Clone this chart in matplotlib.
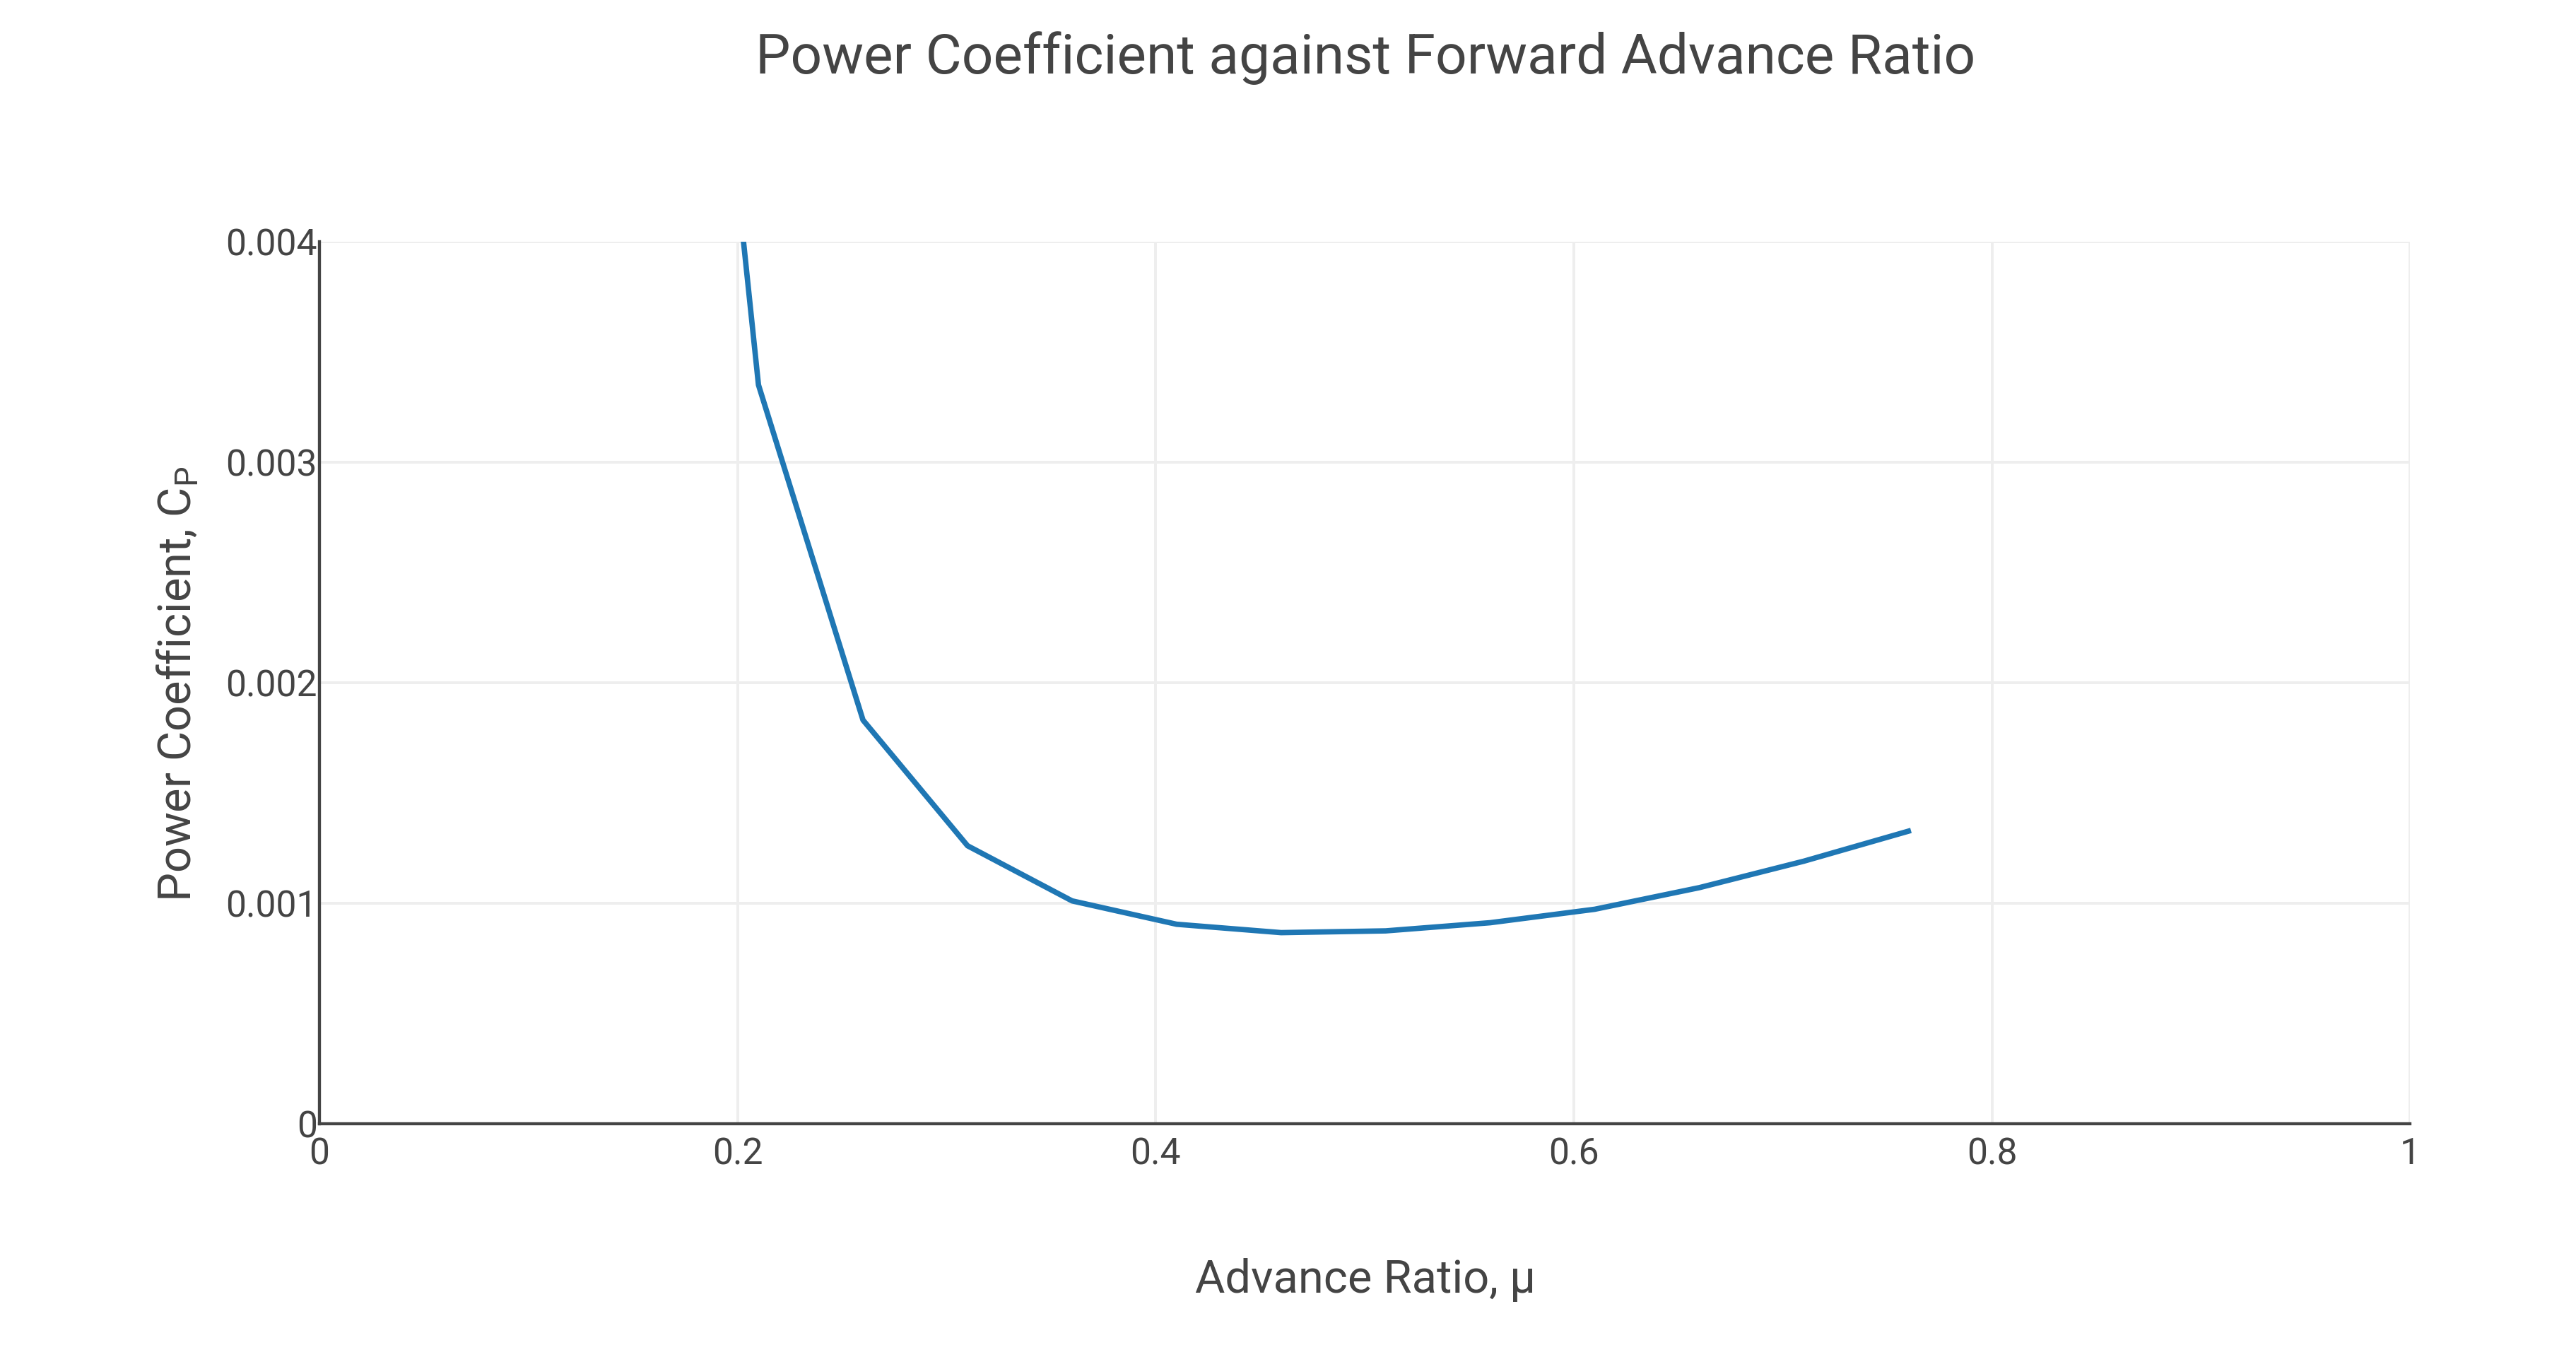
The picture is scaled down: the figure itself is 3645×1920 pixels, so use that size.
import matplotlib
matplotlib.use("Agg")
import matplotlib.pyplot as plt

plt.rcParams["font.family"] = ["Roboto", "DejaVu Sans"]

# advance ratio mu and power coefficient Cp
mu = [0.16, 0.21, 0.26, 0.31, 0.36, 0.41, 0.46, 0.51, 0.56, 0.61, 0.66, 0.71, 0.76]
cp = [0.00789, 0.003350, 0.00183, 0.00126, 0.00101, 0.000904, 0.000866, 0.000874,
      0.000911, 0.000972, 0.00107, 0.00119, 0.001326]

x_ticks = [0, 0.2, 0.4, 0.6, 0.8, 1]
x_labels = ["0", "0.2", "0.4", "0.6", "0.8", "1"]
y_ticks = [0, 0.001, 0.002, 0.003, 0.004]
y_labels = ["0", "0.001", "0.002", "0.003", "0.004"]

fig = plt.figure(figsize=(3645 / 240, 1920 / 240), dpi=240)
ax = fig.add_axes([0.124, 0.172, 0.8116, 0.650])

ax.plot(mu, cp, color="#1f77b4", linewidth=2.3, solid_joinstyle="round")

ax.set_xlim(0, 1)
ax.set_ylim(0, 0.004)
ax.set_xticks(x_ticks)
ax.set_xticklabels(x_labels)
ax.set_yticks(y_ticks)
ax.set_yticklabels(y_labels)
ax.grid(True, color="#eeeeee", linewidth=1.2)
ax.set_axisbelow(True)

for side in ["top", "right"]:
    ax.spines[side].set_visible(False)
for side in ["left", "bottom"]:
    ax.spines[side].set_color("#444444")
    ax.spines[side].set_linewidth(1.3)

ax.tick_params(length=0, labelsize=15.5, colors="#444444")
ax.tick_params(axis="y", pad=1)
ax.tick_params(axis="x", pad=5.5)

fig.text(0.530, 0.957, "Power Coefficient against Forward Advance Ratio",
         ha="center", va="center", fontsize=23.5, color="#444444")
fig.text(0.530, 0.057, "Advance Ratio, μ", ha="center", va="center",
         fontsize=19.5, color="#444444")
fig.text(0.069, 0.496, r"Power Coefficient, C$_\mathregular{P}$", ha="center",
         va="center", rotation=90, fontsize=19.5, color="#444444")

fig.savefig("out.png", dpi=240, facecolor="white")
